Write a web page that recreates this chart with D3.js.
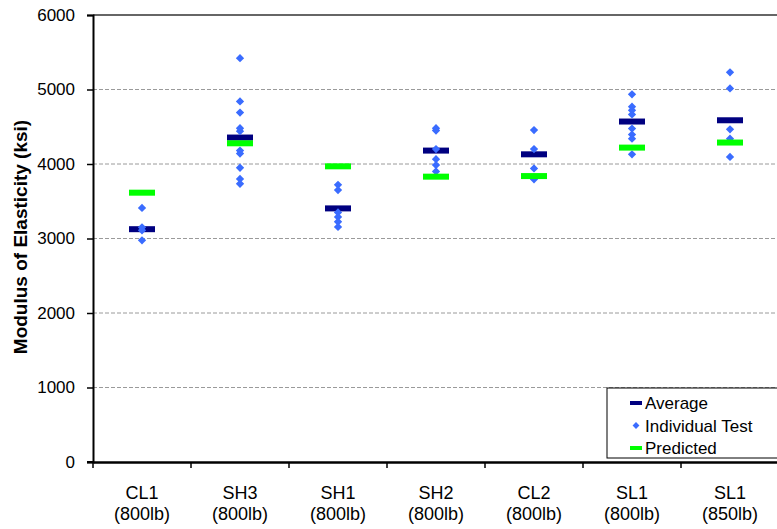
<!DOCTYPE html>
<html>
<head>
<meta charset="utf-8">
<script src="https://cdn.jsdelivr.net/npm/d3@7"></script>
<style>
  body { margin: 0; background: #fff; }
  svg text { font-family: "Liberation Sans", Arial, sans-serif; }
</style>
</head>
<body>
<div id="chart"></div>
<script>
// categories (two line labels)
const categories = ["CL1|(800lb)", "SH3|(800lb)", "SH1|(800lb)", "SH2|(800lb)", "CL2|(800lb)", "SL1|(800lb)", "SL1|(850lb)"];
const average = [3125, 4355, 3404, 4180, 4130, 4570, 4587];
const predicted = [3615, 4278, 3969, 3830, 3838, 4220, 4288];
const individual = [
  [3410, 3150, 3110, 2975],
  [5420, 4840, 4690, 4480, 4440, 4180, 4140, 3950, 3800, 3735],
  [3720, 3650, 3350, 3290, 3225, 3155],
  [4480, 4450, 4200, 4065, 3985, 3900],
  [4455, 4200, 3940, 3795],
  [4935, 4770, 4720, 4665, 4475, 4395, 4340, 4130],
  [5230, 5015, 4465, 4340, 4095]
];
const yTicks = [0, 1000, 2000, 3000, 4000, 5000, 6000];

const width = 777, height = 529;
const margin = {left: 93, top: 15, right: -2, bottom: 67};

const svg = d3.select("#chart").append("svg")
  .attr("width", width).attr("height", height);

const x = d3.scaleBand()
  .domain(categories)
  .range([margin.left, width - margin.right]);
const y = d3.scaleLinear()
  .domain([0, 6000])
  .range([height - margin.bottom, margin.top]);

// grid lines
svg.append("g")
  .selectAll("line")
  .data(yTicks.filter(d => d > 0 && d < 6000))
  .enter().append("line")
    .attr("x1", margin.left).attr("x2", width)
    .attr("y1", d => y(d)).attr("y2", d => y(d))
    .attr("stroke", "#9a9a9a")
    .attr("stroke-width", 1)
    .attr("stroke-dasharray", "4,2");
svg.append("line")
  .attr("x1", margin.left).attr("x2", width)
  .attr("y1", y(6000)).attr("y2", y(6000))
  .attr("stroke", "#333").attr("stroke-width", 1.5);

// y axis
const yAxis = svg.append("g")
  .attr("transform", `translate(${margin.left},0)`)
  .call(d3.axisLeft(y).tickValues(yTicks).tickSize(6).tickPadding(12).tickFormat(d3.format("d")));
yAxis.select(".domain").attr("stroke", "#000").attr("stroke-width", 2);
yAxis.selectAll(".tick line").attr("stroke", "#000").attr("stroke-width", 1.5);
yAxis.selectAll("text").attr("font-size", 17).attr("fill", "#000");

// x axis
const xAxis = svg.append("g")
  .attr("transform", `translate(0,${y(0)})`)
  .call(d3.axisBottom(x).tickSize(0).tickFormat(""));
xAxis.select(".domain").attr("stroke", "#000").attr("stroke-width", 2.5);
svg.append("line")
  .attr("x1", margin.left - 6).attr("x2", margin.left)
  .attr("y1", y(0)).attr("y2", y(0))
  .attr("stroke", "#000").attr("stroke-width", 2);
svg.append("g")
  .selectAll("line")
  .data(categories)
  .enter().append("line")
    .attr("x1", d => x(d)).attr("x2", d => x(d))
    .attr("y1", y(0)).attr("y2", y(0) + 6)
    .attr("stroke", "#000").attr("stroke-width", 1.5);

const labels = svg.append("g")
  .selectAll("text")
  .data(categories)
  .enter().append("text")
    .attr("text-anchor", "middle")
    .attr("font-size", 18)
    .attr("fill", "#000");
labels.append("tspan")
  .attr("x", d => x(d) + x.bandwidth() / 2)
  .attr("y", 499)
  .text(d => d.split("|")[0]);
labels.append("tspan")
  .attr("x", d => x(d) + x.bandwidth() / 2)
  .attr("y", 520)
  .text(d => d.split("|")[1]);

// y title
svg.append("text")
  .attr("transform", "translate(27,237) rotate(-90)")
  .attr("text-anchor", "middle")
  .attr("font-size", 19)
  .attr("font-weight", "bold")
  .text("Modulus of Elasticity (ksi)");

const cx = (i) => x(categories[i]) + x.bandwidth() / 2;
const barW = 26, barH = 6;

// average
svg.append("g")
  .selectAll("rect")
  .data(average)
  .enter().append("rect")
    .attr("x", (d, i) => cx(i) - barW / 2)
    .attr("y", d => y(d) - barH / 2)
    .attr("width", barW).attr("height", barH)
    .attr("fill", "#000080");

// individual tests
const diamond = d3.symbol().type(d3.symbolDiamond2).size(44);
const pts = [];
individual.forEach((arr, i) => arr.forEach(v => pts.push({i: i, v: v})));
svg.append("g")
  .selectAll("path")
  .data(pts)
  .enter().append("path")
    .attr("d", diamond)
    .attr("transform", d => `translate(${cx(d.i)},${y(d.v)})`)
    .attr("fill", "#3a6cff");

// predicted
svg.append("g")
  .selectAll("rect")
  .data(predicted)
  .enter().append("rect")
    .attr("x", (d, i) => cx(i) - barW / 2)
    .attr("y", d => y(d) - barH / 2)
    .attr("width", barW).attr("height", barH)
    .attr("fill", "#00ff00");

// legend
const lg = svg.append("g").attr("transform", "translate(607,388)");
lg.append("rect")
  .attr("width", 176).attr("height", 70)
  .attr("fill", "#fff").attr("stroke", "#000").attr("stroke-width", 1);
const legendItems = ["Average", "Individual Test", "Predicted"];
const legendColors = ["#000080", "#3a6cff", "#00ff00"];
legendItems.forEach((name, k) => {
  const yy = 15 + k * 22.5;
  if (k === 1) {
    lg.append("path")
      .attr("d", d3.symbol().type(d3.symbolDiamond2).size(30))
      .attr("transform", `translate(29,${yy})`)
      .attr("fill", legendColors[k]);
  } else {
    lg.append("rect")
      .attr("x", 23).attr("y", yy - 2)
      .attr("width", 12).attr("height", 4)
      .attr("fill", legendColors[k]);
  }
  lg.append("text")
    .attr("x", 38).attr("y", yy + 6)
    .attr("font-size", 17)
    .text(name);
});
</script>
</body>
</html>
